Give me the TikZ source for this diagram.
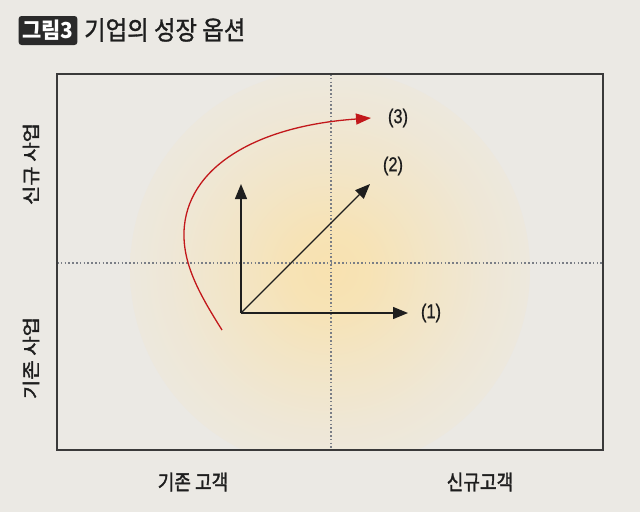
\documentclass[tikz,border=0pt]{standalone}
\usepackage{fontspec}
\newfontfamily\kr{Noto Sans CJK KR}
\newfontfamily\krm[FakeBold=1.2]{Noto Sans CJK KR}
\newfontfamily\krs[FakeBold=1.8]{Noto Sans CJK KR}
\newfontfamily\numfont[FakeBold=0.8]{Liberation Sans}
\usetikzlibrary{arrows.meta}
\definecolor{bgc}{HTML}{EBE9E4}
\definecolor{glowc}{HTML}{F8E2B0}
\definecolor{framec}{HTML}{3A3A3A}
\definecolor{dotc}{HTML}{7A7E86}
\definecolor{inkc}{HTML}{1E1E1E}
\definecolor{redc}{HTML}{C2181B}
\definecolor{boxc}{HTML}{2A2A2A}
\pgfdeclareradialshading{glowshade}{\pgfpoint{0bp}{0bp}}{color(0bp)=(glowc); color(5bp)=(glowc!90!bgc); color(12bp)=(glowc!58!bgc); color(20bp)=(glowc!26!bgc); color(27bp)=(glowc!8!bgc); color(33bp)=(bgc); color(50bp)=(bgc)}
\tikzset{
  axislabel/.style={font=\krs\fontsize{21}{21}\selectfont, text=inkc, inner sep=0pt, xscale=0.86},
  numlabel/.style={font=\numfont\fontsize{20}{20}\selectfont, text=inkc, inner sep=0pt, xscale=0.82},
  dotline/.style={draw=dotc, line width=1.3pt, dash pattern=on 1.5pt off 2.3pt},
  blackarrow/.style={draw=inkc, line width=1.3pt, -{Triangle[length=15pt,width=12pt]}},
  redarrow/.style={draw=redc, line width=1.3pt, -{Triangle[length=15pt,width=11pt]}},
}
\begin{document}
\begin{tikzpicture}[x=1pt,y=-1pt]
\useasboundingbox (0,0) rectangle (640,512);
\fill[bgc] (0,0) rectangle (640,512);
% frame corners
\coordinate (TL) at (57,74);
\coordinate (BR) at (603,450);
% glow
\begin{scope}
  \clip (TL) rectangle (BR);
  \shade[shading=glowshade] (330,270) circle[radius=200pt];
\end{scope}
% dotted cross
\coordinate (vt) at (331,74);
\coordinate (vb) at (331,450);
\coordinate (hl) at (57,263);
\coordinate (hr) at (603,263);
\draw[dotline] (vt) -- (vb);
\draw[dotline] (hl) -- (hr);
% frame
\draw[framec, line width=1.2pt] (TL) rectangle (BR);
% title
\node[fill=boxc, rounded corners=3pt, minimum width=62pt, minimum height=29pt, inner sep=0pt,
      text=white, font=\kr\bfseries\fontsize{22}{22}\selectfont, xscale=0.95] (tbox) at (48,30.5) {그림3};
\node[anchor=west, inner sep=0pt, text=inkc, font=\krm\fontsize{26}{26}\selectfont, xscale=0.9] (title) at (84,30) {기업의 성장 옵션};
% arrows
\coordinate (O) at (241,313);
\coordinate (t1) at (408,313);
\coordinate (t2) at (370,184);
\coordinate (tup) at (241,184);
\coordinate (rs) at (222,330);
\coordinate (rm) at (184,232);
\coordinate (t3) at (371,118);
\draw[blackarrow] (O) -- (t1);
\draw[blackarrow] (O) -- (t2);
\draw[blackarrow] (O) -- (tup);
\draw[redarrow] (rs) .. controls (200,295) and (183,265) .. (rm) .. controls (186,168) and (255,126) .. (t3);
\node[numlabel] (n1) at (431,313) {(1)};
\node[numlabel] (n2) at (393,166) {(2)};
\node[numlabel] (n3) at (398,118) {(3)};
% axis labels
\node[axislabel, rotate=90] (ly1) at (31,164) {신규 사업};
\node[axislabel, rotate=90] (ly2) at (31,358) {기존 사업};
\node[axislabel] (lx1) at (193,482) {기존 고객};
\node[axislabel] (lx2) at (480,482) {신규고객};
\end{tikzpicture}
\end{document}
